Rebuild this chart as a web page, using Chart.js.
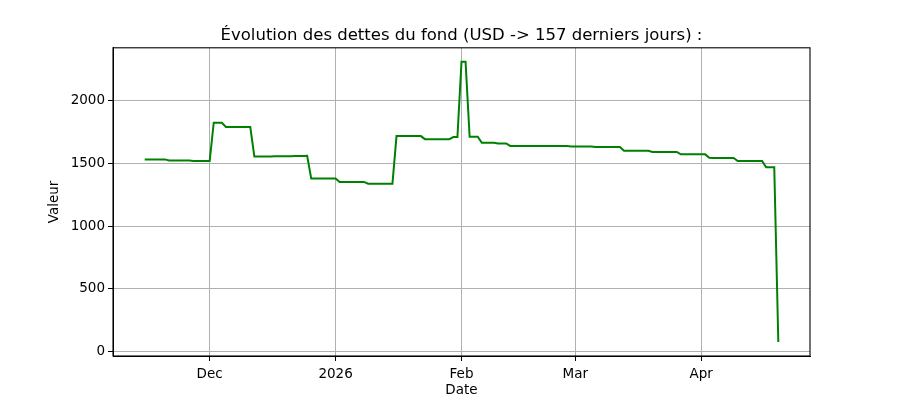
<!DOCTYPE html>
<html>
<head>
<meta charset="utf-8">
<script src="https://cdn.jsdelivr.net/npm/chart.js@4.4.1/dist/chart.umd.min.js"></script>
<style>
  html, body { margin: 0; padding: 0; background: #fff; }
  #wrap { width: 900px; height: 400px; }
</style>
</head>
<body>
<div id="wrap"><canvas id="debt-chart" width="900" height="400"></canvas></div>
<script>
// one value per day, 15 Nov 2025 (day 0) -> 20 Apr 2026 (day 156)
const debtValues = [
  1529, 1529, 1529, 1529, 1529, 1529,
  1520, 1520, 1520, 1520, 1520, 1520,
  1516, 1516, 1516, 1516, 1516,
  1820, 1820, 1820,
  1786, 1786, 1786, 1786, 1786, 1786, 1786,
  1552, 1552, 1553, 1553, 1553, 1554, 1554, 1554, 1555, 1555, 1556, 1556, 1556, 1557,
  1378, 1378, 1378, 1378, 1378, 1378, 1378,
  1350, 1350, 1350, 1350, 1350, 1350, 1350,
  1336, 1336, 1336, 1336, 1336, 1336, 1336,
  1714, 1714, 1714, 1714, 1714, 1714, 1714,
  1690, 1690, 1690, 1690, 1690, 1690, 1690,
  1706, 1706,
  2304, 2304,
  1709, 1709, 1709,
  1661, 1661, 1661, 1661,
  1656, 1656, 1656,
  1636, 1636, 1636, 1636, 1636, 1636, 1636, 1636, 1636, 1636, 1636, 1636, 1636, 1636, 1636,
  1632, 1632, 1632, 1632, 1632, 1632,
  1628, 1628, 1628, 1628, 1628, 1628, 1628,
  1598, 1598, 1598, 1598, 1598, 1598, 1598,
  1588, 1588, 1588, 1588, 1588, 1588, 1588,
  1569, 1569, 1569, 1569, 1569, 1569, 1569,
  1542,
  1540, 1540, 1540, 1540, 1540, 1540,
  1516, 1516, 1516, 1516, 1516, 1516, 1516,
  1466, 1466, 1466,
  79,
];

const dayIndex = debtValues.map((v, i) => i);

// x ticks: day index of 1 Dec, 1 Jan, 1 Feb, 1 Mar, 1 Apr
const xTickDays = [16, 47, 78, 106, 137];
const xTickLabels = ["Dec", "2026", "Feb", "Mar", "Apr"];
const yTickValues = [0, 500, 1000, 1500, 2000];

const FONT = "'DejaVu Sans', sans-serif";
Chart.defaults.font.family = FONT;
Chart.defaults.color = "#000";

// matplotlib style 5% margins
const xPad = (dayIndex[dayIndex.length - 1] - dayIndex[0]) * 0.05;
const yMin = Math.min(...debtValues);
const yMax = Math.max(...debtValues);
const yPad = (yMax - yMin) * 0.05;

const frame = {
  id: "frame",
  afterDraw(chart) {
    const { ctx, chartArea: a } = chart;
    ctx.save();
    ctx.strokeStyle = "#000";
    ctx.lineWidth = 1.1;
    ctx.strokeRect(a.left, a.top, a.right - a.left, a.bottom - a.top);
    ctx.restore();
  },
};

new Chart(document.getElementById("debt-chart"), {
  type: "line",
  data: {
    datasets: [
      {
        data: dayIndex.map((d, i) => ({ x: d, y: debtValues[i] })),
        borderColor: "#008000",
        borderWidth: 2,
        pointRadius: 0,
        tension: 0,
        fill: false,
      },
    ],
  },
  options: {
    responsive: false,
    animation: false,
    devicePixelRatio: 1,
    layout: { padding: { left: 0, right: 90, top: 0, bottom: 0 } },
    plugins: {
      legend: { display: false },
      tooltip: { enabled: false },
      title: {
        display: true,
        fullSize: false,
        text: "Évolution des dettes du fond (USD -> 157 derniers jours) :",
        color: "#000",
        font: { size: 16.5, weight: "normal", family: FONT },
        padding: { top: 26, bottom: 2 },
      },
    },
    scales: {
      x: {
        type: "linear",
        min: dayIndex[0] - xPad,
        max: dayIndex[dayIndex.length - 1] + xPad,
        afterBuildTicks: (scale) => {
          scale.ticks = xTickDays.map((v) => ({ value: v }));
        },
        afterFit: (scale) => {
          scale.height = 44;
        },
        ticks: {
          autoSkip: false,
          maxRotation: 0,
          padding: 5,
          font: { size: 13.5 },
          callback: (value) => xTickLabels[xTickDays.indexOf(value)],
        },
        grid: {
          color: "#b0b0b0",
          lineWidth: 1,
          tickColor: "#000",
          tickLength: 5,
        },
        border: { display: true, color: "#000", width: 1 },
        title: {
          display: true,
          text: "Date",
          font: { size: 13.5 },
          padding: { top: 0, bottom: 1 },
        },
      },
      y: {
        min: yMin - yPad,
        max: yMax + yPad,
        afterBuildTicks: (scale) => {
          scale.ticks = yTickValues.map((v) => ({ value: v }));
        },
        afterFit: (scale) => {
          scale.width = 113;
        },
        ticks: {
          padding: 3,
          font: { size: 13.5 },
          callback: (value) => String(value),
        },
        grid: {
          color: "#b0b0b0",
          lineWidth: 1,
          tickColor: "#000",
          tickLength: 5,
        },
        border: { display: true, color: "#000", width: 1 },
        title: {
          display: true,
          text: "Valeur",
          font: { size: 13.5 },
          padding: { top: 46, bottom: 0 },
        },
      },
    },
  },
  plugins: [frame],
});
</script>
</body>
</html>
